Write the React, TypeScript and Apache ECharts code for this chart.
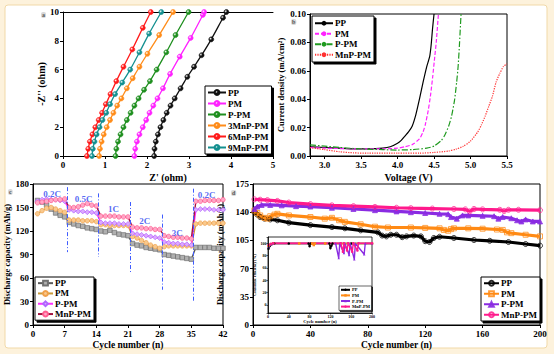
import React, { useEffect, useRef } from 'react';
import * as echarts from 'echarts';

const FONT = '"Liberation Serif", "Times New Roman", serif';

// ---------- Panel a: Nyquist plots ----------
const A_NAMES = ['PP', 'PM', 'P-PM', '3MnP-PM', '6MnP-PM', '9MnP-PM'];
const A_COLORS = ['#111111', '#ff22ff', '#1f8f1f', '#ff8c1a', '#ff1a1a', '#149090'];
const eisPP = [[2.17, 0], [2.18, 0.5], [2.21, 1], [2.26, 1.5], [2.32, 2], [2.39, 2.5], [2.47, 3], [2.56, 3.5], [2.66, 4], [2.8, 4.7], [2.96, 5.5], [3.12, 6.2], [3.3, 7], [3.53, 8.1], [3.81, 9.6], [3.89, 10]];
const eisPM = [[1.7, 0], [1.72, 0.5], [1.76, 1], [1.82, 1.5], [1.9, 2], [1.98, 2.5], [2.06, 3], [2.15, 3.5], [2.25, 4], [2.38, 4.7], [2.55, 5.7], [2.78, 6.9], [3.04, 8.2], [3.33, 9.8], [3.36, 10]];
const eisPPM = [[1.25, 0], [1.27, 0.5], [1.31, 1], [1.37, 1.5], [1.44, 2], [1.52, 2.5], [1.61, 3], [1.7, 3.5], [1.8, 4], [1.93, 4.6], [2.07, 5.2], [2.23, 6], [2.46, 7.2], [2.68, 8.4], [2.99, 10]];
const eis3MnP = [[0.86, 0], [0.88, 0.5], [0.92, 1], [0.97, 1.5], [1.04, 2], [1.12, 2.5], [1.2, 3], [1.29, 3.5], [1.39, 4], [1.52, 4.7], [1.66, 5.4], [1.82, 6.2], [2.01, 7.1], [2.29, 8.4], [2.62, 10]];
const eis6MnP = [[0.57, 0], [0.6, 0.5], [0.64, 1], [0.7, 1.5], [0.77, 2], [0.85, 2.5], [0.93, 3], [1.02, 3.6], [1.13, 4.3], [1.27, 5.2], [1.44, 6.2], [1.65, 7.4], [1.9, 8.9], [2.09, 10]];
const eis9MnP = [[0.69, 0], [0.71, 0.5], [0.75, 1], [0.8, 1.5], [0.87, 2], [0.94, 2.5], [1.03, 3], [1.12, 3.6], [1.24, 4.3], [1.41, 5.1], [1.6, 6], [1.82, 7.2], [2.05, 8.5], [2.34, 10]];
const A_DATA = [eisPP, eisPM, eisPPM, eis3MnP, eis6MnP, eis9MnP];

// ---------- Panel b: LSV ----------
const B_NAMES = ['PP', 'PM', 'P-PM', 'MnP-PM'];
const B_COLORS = ['#000000', '#ff22ff', '#1f9a1f', '#ff3030'];
const lsvPP = [[2.8, 0.0065], [3.0, 0.006], [3.2, 0.0055], [3.4, 0.005], [3.6, 0.005], [3.8, 0.0055], [3.9, 0.0065], [4.0, 0.009], [4.05, 0.011], [4.1, 0.014], [4.15, 0.017], [4.2, 0.021], [4.25, 0.029], [4.3, 0.04], [4.35, 0.052], [4.4, 0.063], [4.44, 0.07], [4.46, 0.078], [4.48, 0.09], [4.5, 0.1]];
const lsvPM = [[2.8, 0.006], [3.0, 0.0055], [3.5, 0.005], [3.8, 0.005], [4.0, 0.0055], [4.1, 0.0065], [4.2, 0.008], [4.3, 0.012], [4.35, 0.017], [4.38, 0.022], [4.42, 0.032], [4.45, 0.042], [4.48, 0.055], [4.51, 0.07], [4.53, 0.08], [4.56, 0.1]];
const lsvPPM = [[2.8, 0.0078], [3.0, 0.007], [3.2, 0.006], [3.5, 0.005], [3.8, 0.0045], [4.0, 0.0042], [4.2, 0.0045], [4.4, 0.0055], [4.5, 0.007], [4.6, 0.011], [4.65, 0.015], [4.7, 0.021], [4.74, 0.028], [4.78, 0.039], [4.81, 0.052], [4.83, 0.063], [4.85, 0.08], [4.87, 0.1]];
const lsvMnP = [[2.8, 0.0058], [3.0, 0.0045], [3.2, 0.003], [3.4, 0.0022], [3.6, 0.002], [4.0, 0.002], [4.3, 0.002], [4.5, 0.0025], [4.7, 0.0035], [4.8, 0.0048], [4.9, 0.0068], [5.0, 0.0105], [5.1, 0.017], [5.15, 0.022], [5.2, 0.028], [5.25, 0.035], [5.3, 0.042], [5.35, 0.052], [5.4, 0.058], [5.45, 0.063], [5.5, 0.065]];
const B_DATA = [lsvPP, lsvPM, lsvPPM, lsvMnP];
const B_DASH: any[] = ['solid', [4, 2], [6, 2, 1.5, 2], [1.2, 1.2]];

// ---------- Panel c: rate capability ----------
const cCycles = [1, 2, 3, 4, 5, 6, 7, 8, 9, 10, 11, 12, 13, 14, 15, 16, 17, 18, 19, 20, 21, 22, 23, 24, 25, 26, 27, 28, 29, 30, 31, 32, 33, 34, 35, 36, 37, 38, 39, 40, 41, 42];
const ratePP = [159, 157, 153, 148, 143, 140, 138, 131, 129, 127, 126, 124, 123, 122, 120, 119, 121, 118, 116, 115, 114, 104, 102, 101, 99, 98, 97, 96, 90, 89, 88, 87, 86, 85, 84, 99, 99, 99, 99, 98, 98, 98];
const ratePM = [142, 146, 149, 150, 148, 146, 144, 134, 134, 134, 133, 133, 133, 132, 128, 128, 127, 127, 127, 127, 127, 113, 111, 108, 105, 102, 100, 98, 100, 101, 101, 101, 101, 101, 101, 129, 130, 130, 130, 130, 130, 130];
const ratePPM = [158, 160, 161, 160, 160, 159, 158, 147, 146, 145, 145, 144, 144, 143, 131, 130, 130, 130, 129, 129, 129, 117, 116, 115, 114, 113, 112, 111, 106, 105, 104, 104, 103, 103, 102, 147, 148, 148, 148, 147, 147, 147];
const rateMnP = [156, 157, 158, 159, 160, 160, 161, 150, 150, 151, 153, 155, 153, 152, 139, 139, 139, 139, 138, 138, 138, 125, 124, 124, 123, 123, 122, 122, 114, 113, 112, 112, 111, 111, 110, 158, 158, 159, 159, 159, 159, 160];
const C_DATA = [ratePP, ratePM, ratePPM, rateMnP];
const C_LINE = ['#5a5a5a', '#c99a3a', '#ff30ff', '#a3123f'];
const C_FILL = ['#b0b0b0', '#f8c98e', '#dca8ff', '#ffa6c6'];
const C_BORDER = ['#707070', '#f0a04a', '#b066ff', '#ff5c8f'];
const C_SYMBOL = ['rect', 'circle', 'diamond', 'circle'];
const rateDividers = [[7.5, 176, 93], [14.5, 168, 87], [21.5, 157, 67], [28.5, 141, 45], [35.5, 174, 30]];
const rateLabels = [[4.2, 167, '0.2C'], [11.2, 161, '0.5C'], [17.8, 148, '1C'], [24.7, 133, '2C'], [31.9, 118, '3C'], [38.4, 166, '0.2C']];

// ---------- Panel d: cycling ----------
const cycPP = [[1, 140], [3, 137], [5, 134], [8, 132], [12, 131], [17, 130], [25, 127], [40, 124], [55, 121.5], [64, 120], [75, 117.5], [87, 115], [90, 111], [93, 110], [96, 112], [100, 112], [104, 109], [107, 110], [112, 111], [117, 110], [120, 104], [123, 103], [126, 108], [130, 109.5], [140, 108], [154, 105.5], [165, 104.5], [178, 103], [190, 100.5], [200, 98.5]];
const cycPM = [[1, 142], [3, 139], [5, 136], [8, 133], [10, 132], [12, 135], [15, 137], [17, 138], [25, 136], [40, 134], [50, 132], [55, 133], [60, 130], [64, 128], [75, 125], [85, 122], [94, 121], [110, 121], [120, 120.5], [130, 120], [133, 118], [136, 117], [138, 119], [140, 120], [150, 120], [160, 119.5], [170, 118.5], [174, 118], [177, 115], [180, 114], [190, 112], [200, 110]];
const cycPPM = [[1, 144], [3, 147], [6, 149], [12, 149], [20, 148.5], [30, 147.5], [40, 147], [55, 145.5], [70, 144], [85, 142.5], [100, 141], [110, 140], [120, 139], [130, 138], [136, 137.5], [138, 134], [142, 132], [146, 136], [150, 136], [160, 135.5], [168, 135], [171, 132], [174, 134], [180, 132.5], [184, 130], [187, 128.5], [190, 131], [195, 128.5], [200, 128.5]];
const cycMnP = [[1, 156], [5, 155.5], [10, 155], [17, 154], [25, 152], [40, 150], [55, 148.5], [70, 147.5], [85, 146.5], [100, 145.5], [110, 145], [125, 144.5], [140, 144], [148, 143.5], [151, 141], [154, 144], [160, 143.5], [172, 143], [175, 141.5], [178, 143], [185, 143], [200, 142.5]];
const D_DATA = [cycPP, cycPM, cycPPM, cycMnP];
const D_COLORS = ['#000000', '#ff8a14', '#8a2be2', '#ff1a8c'];
const D_SYMBOL = ['circle', 'rect', 'triangle', 'circle'];

// ---------- Inset: Coulombic efficiency ----------
const cePP = [[1, 91], [3, 95], [5, 97], [8, 98.5], [12, 99.5], [40, 99.5], [78, 99.5], [80, 95], [82, 99.5], [118, 99.5], [120, 92], [122, 96], [124, 99.5], [160, 99.5], [200, 99.5]];
const cePM = [[1, 96], [5, 98], [10, 99.5], [60, 99.5], [85, 99.5], [88, 97], [90, 99.5], [110, 99.5], [200, 99.5]];
const cePPM = [[1, 94], [5, 98], [10, 99.5], [130, 99.5], [136, 76], [138, 99.5], [146, 84], [148, 99.5], [156, 81], [158, 99.5], [166, 74], [168, 99.5], [185, 82], [187, 99.5], [200, 99.5]];
const ceMnP = [[1, 97], [5, 99], [10, 100], [140, 100], [144, 86], [146, 100], [152, 88], [154, 100], [162, 86], [164, 100], [172, 88], [174, 100], [200, 100]];
const CE_DATA = [cePP, cePM, cePPM, ceMnP];

const tick = { fontFamily: FONT, fontWeight: 'bold', fontSize: 9, color: '#000' };
const nameStyle = { fontFamily: FONT, fontWeight: 'bold', fontSize: 10, color: '#000' };

function axis(o: any) {
  return {
    type: 'value',
    axisLine: { show: true, onZero: false, lineStyle: { color: '#000', width: 1 } },
    axisTick: { show: true, length: 3, lineStyle: { color: '#000' } },
    splitLine: { show: false },
    axisLabel: { ...tick, margin: 4 },
    nameTextStyle: nameStyle,
    nameLocation: 'middle',
    ...o,
  };
}

function legendBox(o: any, lh: number) {
  return {
    orient: 'vertical',
    selectedMode: false,
    backgroundColor: '#ffffff',
    borderColor: '#000',
    borderWidth: 1,
    borderRadius: 0,
    shadowColor: '#000',
    shadowBlur: 0,
    shadowOffsetX: 2,
    shadowOffsetY: 2,
    itemWidth: 18,
    itemHeight: 6,
    itemGap: 0,
    padding: [1, 3, 1, 2],
    textStyle: { fontFamily: FONT, fontWeight: 'bold', fontSize: 9, lineHeight: lh, color: '#000', padding: [0, 0, 0, -3] },
    formatter: (n: string) => n.trim(),
    ...o,
  };
}

export default function App() {
  const ref = useRef<HTMLDivElement>(null);
  useEffect(() => {
    if (!ref.current) return;
    const chart = echarts.init(ref.current, undefined, { renderer: 'svg' });
    const series: any[] = [];
    const sfx = (n: string, k: number) => n + ' '.repeat(k);

    A_NAMES.forEach((n, i) => {
      series.push({
        name: n, type: 'line', xAxisIndex: 0, yAxisIndex: 0, smooth: 0.3,
        data: A_DATA[i], symbol: 'circle', symbolSize: 5, showAllSymbol: true,
        lineStyle: { color: A_COLORS[i], width: 1.3 },
        itemStyle: {
          color: new echarts.graphic.RadialGradient(0.35, 0.35, 0.7, [
            { offset: 0, color: '#ffffff' }, { offset: 0.45, color: A_COLORS[i] }, { offset: 1, color: A_COLORS[i] },
          ]),
          borderColor: A_COLORS[i], borderWidth: 0.6,
        },
        z: 3,
      });
    });

    B_NAMES.forEach((n, i) => {
      series.push({
        name: sfx(n, 1), type: 'line', xAxisIndex: 1, yAxisIndex: 1, smooth: 0.2,
        data: B_DATA[i], symbol: 'none',
        lineStyle: { color: B_COLORS[i], width: 1.2, type: B_DASH[i] },
        itemStyle: { color: B_COLORS[i] },
      });
    });

    B_NAMES.forEach((n, i) => {
      const s: any = {
        name: sfx(n, 2), type: 'line', xAxisIndex: 2, yAxisIndex: 2,
        data: cCycles.map((c, j) => [c, C_DATA[i][j]]),
        symbol: C_SYMBOL[i], symbolSize: i === 2 ? 5 : 4.5, showAllSymbol: true,
        lineStyle: { color: C_LINE[i], width: 1.4 },
        itemStyle: { color: C_FILL[i], borderColor: C_BORDER[i], borderWidth: 0.7 },
      };
      if (i === 0) {
        s.markLine = {
          silent: true, symbol: ['none', 'none'], label: { show: false },
          lineStyle: { color: '#3f5cff', width: 1, type: [4, 2, 1, 2] },
          data: rateDividers.map((d) => [{ coord: [d[0], d[1]] }, { coord: [d[0], d[2]] }]),
        };
      }
      series.push(s);
    });
    series.push({
      type: 'scatter', xAxisIndex: 2, yAxisIndex: 2, symbolSize: 1, silent: true, z: 5,
      data: rateLabels, itemStyle: { color: 'rgba(0,0,0,0)' },
      label: {
        show: true, position: 'inside', formatter: (p: any) => p.data[2],
        fontFamily: FONT, fontWeight: 'bold', fontSize: 9, color: '#2b45f0',
      },
    });

    B_NAMES.forEach((n, i) => {
      series.push({
        name: sfx(n, 3), type: 'line', xAxisIndex: 3, yAxisIndex: 3,
        data: D_DATA[i], symbol: D_SYMBOL[i], symbolSize: 5, showAllSymbol: true,
        lineStyle: { color: D_COLORS[i], width: 3.2 },
        itemStyle: { color: i === 2 ? D_COLORS[i] : 'rgba(255,255,255,0)', borderColor: D_COLORS[i], borderWidth: 0.9, opacity: 0.85 },
      });
    });

    B_NAMES.forEach((n, i) => {
      series.push({
        name: sfx(n, 4), type: 'line', xAxisIndex: 4, yAxisIndex: 4, z: 8,
        data: CE_DATA[i], symbol: D_SYMBOL[i], symbolSize: 2.5, showAllSymbol: true,
        lineStyle: { color: D_COLORS[i], width: 1.4 },
        itemStyle: { color: D_COLORS[i] },
      });
    });

    const insetTick = (v: number) => (v >= 0 && v <= 100 && Math.abs(v % 20) < 1e-6 ? String(v) : '');

    const option: any = {
      animation: false,
      grid: [
        { left: 63, top: 12, width: 210, height: 144, show: false },
        { left: 310, top: 14, width: 197, height: 142, show: true, borderColor: '#000', borderWidth: 1 },
        { left: 33, top: 184, width: 190, height: 141, show: true, borderColor: '#000', borderWidth: 1 },
        { left: 253, top: 184, width: 287, height: 141, show: true, borderColor: '#000', borderWidth: 1 },
        { left: 268, top: 237, width: 104, height: 76, show: true, borderColor: '#000', borderWidth: 0.8, backgroundColor: '#fff', z: 4 },
      ],
      xAxis: [
        axis({ gridIndex: 0, min: 0, max: 5, interval: 1, name: "Z' (ohm)", nameGap: 16 }),
        axis({ gridIndex: 1, min: 2.8, max: 5.5, splitNumber: 5, name: 'Voltage (V)', nameGap: 16,
          axisLabel: { ...tick, margin: 4, formatter: (v: number) => (Math.abs(v * 2 - Math.round(v * 2)) < 1e-6 ? v.toFixed(1) : '') } }),
        axis({ gridIndex: 2, min: 0, max: 42, interval: 7, name: 'Cycle number (n)', nameGap: 15, nameTextStyle: { ...nameStyle, fontSize: 9.5 } }),
        axis({ gridIndex: 3, min: 0, max: 200, interval: 40, name: 'Cycle number (n)', nameGap: 15, nameTextStyle: { ...nameStyle, fontSize: 9.5 } }),
        axis({ gridIndex: 4, min: 0, max: 200, interval: 40, name: 'Cycle number (n)', nameGap: 5, z: 9,
          axisTick: { show: true, length: 1.5, lineStyle: { color: '#000', width: 0.6 } },
          axisLine: { show: true, onZero: false, lineStyle: { color: '#000', width: 0.8 } },
          axisLabel: { ...tick, fontSize: 4, margin: 1.5 }, nameTextStyle: { ...nameStyle, fontSize: 4.5 } }),
        axis({ gridIndex: 0, min: 0, max: 5, position: 'top', axisTick: { show: false }, axisLabel: { show: false } }),
      ],
      yAxis: [
        axis({ gridIndex: 0, min: 0, max: 10, interval: 2, name: "-Z'' (ohm)", nameGap: 12 }),
        axis({ gridIndex: 1, min: 0, max: 0.1, interval: 0.02, name: 'Current density (mA/cm²)', nameGap: 25,
          nameTextStyle: { ...nameStyle, fontSize: 8.5 },
          axisLabel: { ...tick, margin: 4, formatter: (v: number) => v.toFixed(2) } }),
        axis({ gridIndex: 2, min: 0, max: 180, interval: 30, name: 'Discharge capacity (mAh/g)', nameGap: 19, nameTextStyle: { ...nameStyle, fontSize: 8.5 } }),
        axis({ gridIndex: 3, min: 0, max: 175, interval: 35, name: 'Discharge capacity (mAh/g)', nameGap: 18, nameTextStyle: { ...nameStyle, fontSize: 8.5 } }),
        axis({ gridIndex: 4, min: -13, max: 110, splitNumber: 6, name: 'Coulombic efficiency (%)', nameGap: 8, z: 9,
          axisTick: { show: true, length: 1.5, lineStyle: { color: '#000', width: 0.6 } },
          axisLine: { show: true, onZero: false, lineStyle: { color: '#000', width: 0.8 } },
          axisLabel: { ...tick, fontSize: 4, margin: 1.5, formatter: insetTick },
          nameTextStyle: { ...nameStyle, fontSize: 3.8 } }),
      ],
      legend: [
        legendBox({ left: 205, top: 86, data: A_NAMES }, 11),
        legendBox({ left: 312, top: 16, data: B_NAMES.map((n) => sfx(n, 1)), padding: [2, 3, 2, 2] }, 10.5),
        legendBox({ left: 35, top: 277, itemWidth: 15, data: B_NAMES.map((n) => sfx(n, 2)) }, 10.3),
        legendBox({ left: 481, top: 277, itemWidth: 15, data: B_NAMES.map((n) => sfx(n, 3)) }, 10.5),
        legendBox({ left: 339, top: 286, data: B_NAMES.map((n) => sfx(n, 4)), itemWidth: 9, itemHeight: 3,
          padding: [1, 1.5, 1, 1], borderWidth: 0.6, shadowOffsetX: 1, shadowOffsetY: 1, z: 10,
          textStyle: { fontFamily: FONT, fontWeight: 'bold', fontSize: 4.5, lineHeight: 5.6, color: '#000', padding: [0, 0, 0, -3] } }, 5.6),
      ],
      graphic: [
        { type: 'rect', z: -20, silent: true, shape: { x: 0, y: 0, width: 554, height: 354 }, style: { fill: '#fdf2dc' } },
        { type: 'rect', z: -19, silent: true, shape: { x: 5, y: 5, width: 542, height: 343, r: 3 }, style: { fill: '#ffffff', stroke: '#f1d9a8', lineWidth: 1 } },
        ...[['a', 41, 12], ['b', 291, 19], ['c', 8, 189], ['d', 231, 190]].map((t: any) => ({
          type: 'text', x: t[1], y: t[2], z: 10, silent: true,
          style: { text: t[0], fill: '#555', font: `bold 6px ${FONT}`, backgroundColor: '#d8d8d8', padding: [0, 1, 0, 1], borderRadius: 2 },
        })),
      ],
      series,
    };
    chart.setOption(option);
    return () => chart.dispose();
  }, []);
  return <div ref={ref} style={{ position: 'absolute', left: 0, top: 0, width: 554, height: 354 }} />;
}
